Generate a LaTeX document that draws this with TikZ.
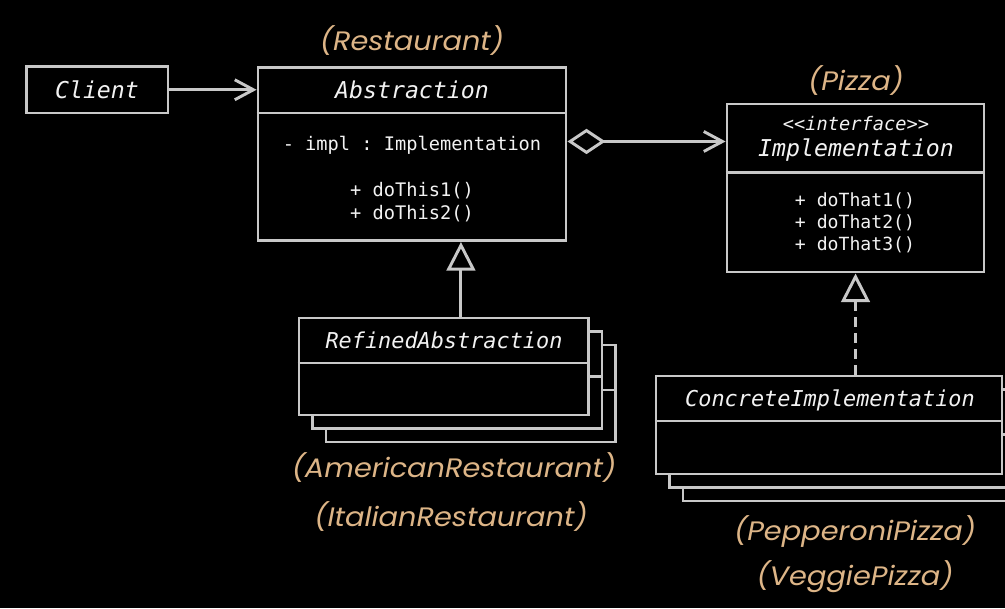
\documentclass[tikz,border=0pt]{standalone}
\usepackage{fontspec}
\usepackage{graphicx}
\setmonofont{DejaVu Sans Mono}
\newfontfamily\lblfont{Poppins}
\usetikzlibrary{arrows.meta}
\definecolor{edge}{HTML}{C8C8C8}
\definecolor{ink}{HTML}{F2F2F2}
\definecolor{tan}{HTML}{DDB587}
% role captions are set slightly wider than the font's natural width
\newcommand\widelabel[1]{\scalebox{1.08}[1]{#1}}

\begin{document}
\begin{tikzpicture}[x=0.75pt,y=-0.75pt,
  classbox/.style 2 args={draw=edge, line width=2.2pt, fill=black, inner sep=0pt,
    minimum width=#1*0.75pt, minimum height=#2*0.75pt},
  txt/.style={inner sep=0pt, anchor=base},
  title/.style={txt, text=ink, font=\ttfamily\itshape\fontsize{17.4}{20}\selectfont},
  subtitle/.style={txt, text=ink, font=\ttfamily\itshape\fontsize{16.4}{20}\selectfont},
  stereo/.style={txt, text=ink, font=\ttfamily\itshape\fontsize{14}{17}\selectfont},
  member/.style={txt, text=ink, font=\ttfamily\fontsize{14}{17}\selectfont},
  smallmember/.style={txt, text=ink, font=\ttfamily\fontsize{13.6}{17}\selectfont},
  role/.style={txt, text=tan, font=\lblfont\itshape\fontsize{20}{24}\selectfont},
  link/.style={draw=edge, line width=2.2pt},
  assoc/.style={link, -{Straight Barb[length=14pt, width=15pt]}},
  aggr/.style={link, {Diamond[open, length=28.5pt, width=19pt]}-{Straight Barb[length=14pt, width=15pt]}},
  inherit/.style={link, -{Triangle[open, fill=black, length=21.5pt, width=21.5pt]}},
  realize/.style={inherit, dash pattern=on 7.5pt off 4.5pt},
]
% page and background
\fill[black] (0,0) rectangle (1005,608);
\useasboundingbox (0,0) rectangle (1005,608);
\clip (0,0) rectangle (1005,608);

% Client
\node[classbox={141.5}{46.5}] (client) at (97.25,89.75) {};
\node[title] (clientname) at (97,98.3) {Client};

% Abstraction
\node[classbox={308}{173}] (abs) at (412,154) {};
\draw[link] (abs.west |- 0,113) -- (abs.east |- 0,113);
\node[title] (absname) at (412,98.3) {Abstraction};
\node[member] (absfield) at (412,150) {- impl : Implementation};
\node[member] (absop1) at (412,196) {+ doThis1()};
\node[member] (absop2) at (412,219) {+ doThis2()};
\node[role] (absrole) at (412,50.5) {\widelabel{(Restaurant)}};

% Implementation
\node[classbox={257}{168}] (impl) at (855.5,188) {};
\draw[link] (impl.west |- 0,172.5) -- (impl.east |- 0,172.5);
\node[stereo] (implstereo) at (856,130) {<\kern0pt<interface>\kern0pt>};
\node[title] (implname) at (856,156.5) {Implementation};
\node[smallmember] (implop1) at (855,206.5) {+ doThat1()};
\node[smallmember] (implop2) at (855,228.3) {+ doThat2()};
\node[smallmember] (implop3) at (855,250) {+ doThat3()};
\node[role] (implrole) at (856,90) {\widelabel{(Pizza)}};

% RefinedAbstraction stack
\foreach \k/\nm in {2/refinedc, 1/refinedb, 0/refined} {
  \node[classbox={289.5}{97}] (\nm) at (443.75+13.5*\k,366.5+13.5*\k) {};
  \draw[link] (\nm.west |- 0,363+13.5*\k) -- (\nm.east |- 0,363+13.5*\k);
}
\node[subtitle] (refinedname) at (444,348.3) {RefinedAbstraction};
\node[role] (refrole1) at (454,477.3) {\widelabel{(AmericanRestaurant)}};
\node[role] (refrole2) at (451,526.7) {\widelabel{(ItalianRestaurant)}};

% ConcreteImplementation stack
\foreach \k/\nm in {2/concretec, 1/concreteb, 0/concrete} {
  \node[classbox={346}{98}] (\nm) at (829+13.5*\k,425+13.5*\k) {};
  \draw[link] (\nm.west |- 0,421+13.5*\k) -- (\nm.east |- 0,421+13.5*\k);
}
\node[subtitle] (concretename) at (830,406.7) {ConcreteImplementation};
\node[role] (conrole1) at (855,540.7) {\widelabel{(PepperoniPizza)}};
\node[role] (conrole2) at (855,585) {\widelabel{(VeggiePizza)}};

% relations
\draw[assoc] (client.east) -- (client.east -| abs.west);
\draw[aggr] ([yshift=9.4pt]abs.east) -- ([yshift=9.4pt]abs.east -| impl.west);
\draw[inherit] ([xshift=12.9pt]refined.north) -- ([xshift=12.9pt]refined.north |- abs.south);
\draw[realize] (impl.south |- concrete.north) -- (impl.south);
\end{tikzpicture}
\end{document}
